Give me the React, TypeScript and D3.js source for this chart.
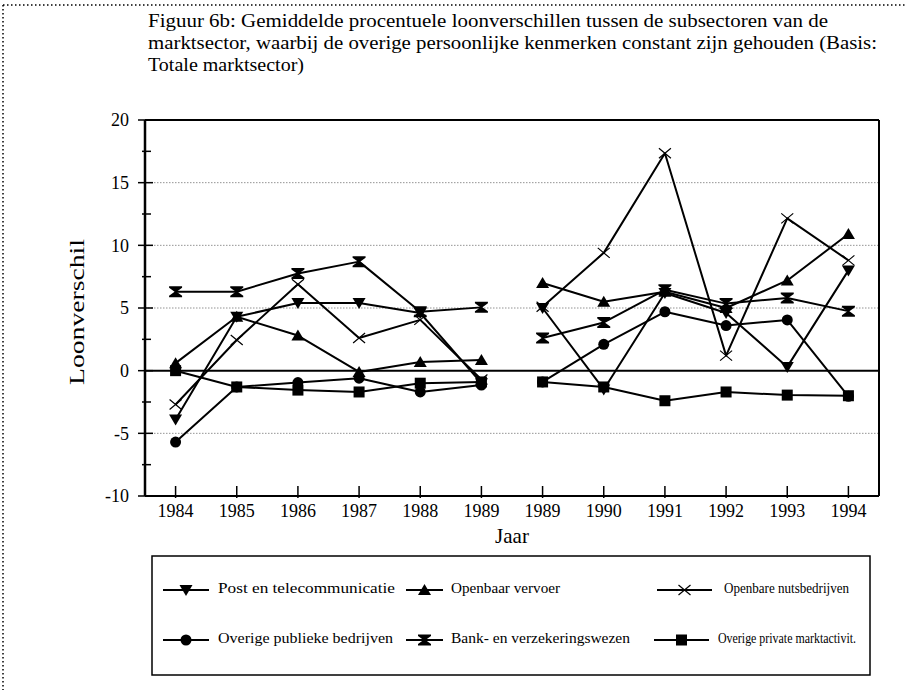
import React from "react";
import * as d3 from "d3";

const categories = ["1984", "1985", "1986", "1987", "1988", "1989", "1989", "1990", "1991", "1992", "1993", "1994"];
const yTicks = [-10, -5, 0, 5, 10, 15, 20];
const gridValues = [-5, 5, 10, 15];

const post = [-3.9, 4.3, 5.4, 5.4, 4.6, -1.0, 5.0, -1.5, 6.2, 4.6, 0.3, 8.0];
const openbaar = [0.6, 4.3, 2.8, -0.1, 0.7, 0.85, 7.0, 5.5, 6.3, 5.0, 7.2, 10.9];
const nuts = [-2.7, 2.45, 6.9, 2.6, 4.05, -0.7, 5.1, 9.4, 17.35, 1.2, 12.15, 8.8];
const publieke = [-5.7, -1.3, -0.95, -0.6, -1.7, -1.15, -0.9, 2.1, 4.7, 3.6, 4.05, -2.05];
const bank = [6.3, 6.3, 7.75, 8.7, 4.7, 5.05, 2.6, 3.85, 6.45, 5.35, 5.8, 4.75];
const privaat = [0, -1.3, -1.55, -1.7, -1.0, -0.9, -0.9, -1.3, -2.4, -1.7, -1.95, -2.0];

const seriesNames = [
  "Post en telecommunicatie",
  "Openbaar vervoer",
  "Openbare nutsbedrijven",
  "Overige publieke bedrijven",
  "Bank- en verzekeringswezen",
  "Overige private marktactivit.",
];
const seriesValues = [post, openbaar, nuts, publieke, bank, privaat];
const markerTypes = ["down", "up", "x", "circle", "bank", "square"];

const titleLines = [
  "Figuur 6b: Gemiddelde procentuele loonverschillen tussen de subsectoren van de",
  "marktsector, waarbij de overige persoonlijke kenmerken constant zijn gehouden (Basis:",
  "Totale marktsector)",
];

const FONT = "Liberation Serif, Times New Roman, Times, Tinos, serif";

function Marker({ type, x, y }: { type: string; x: number; y: number }) {
  const t = `translate(${x},${y})`;
  switch (type) {
    case "down":
      return <path transform={t} d="M-6.5,-5 L6.5,-5 L0,6 Z" fill="#000" />;
    case "up":
      return <path transform={t} d="M-6.5,5 L6.5,5 L0,-6 Z" fill="#000" />;
    case "x":
      return <path transform={t} d="M-6,-5 L6,5 M-6,5 L6,-5" stroke="#000" strokeWidth={1.2} fill="none" />;
    case "circle":
      return <circle cx={x} cy={y} r={5.5} fill="#000" />;
    case "bank":
      return <path transform={t} d="M-6.5,-5.5 L6.5,-5.5 L6.5,-4 L1,0 L6.5,4 L6.5,5.5 L-6.5,5.5 L-6.5,4 L-1,0 L-6.5,-4 Z" fill="#000" />;
    case "square":
      return <rect x={x - 5.5} y={y - 5.5} width={11} height={11} fill="#000" />;
  }
  return null;
}

export default function App() {
  const left = 145, right = 879, top = 120, bottom = 496;
  const x = d3.scaleBand<number>().domain(d3.range(categories.length)).range([left, right]);
  const cx = (i: number) => (x(i) as number) + x.bandwidth() / 2;
  const y = d3.scaleLinear().domain([-10, 20]).range([bottom, top]);

  const segPath = (vals: number[], start: number, end: number) => {
    const idx = d3.range(start, end);
    return d3.line<number>().x((i) => cx(i)).y((i) => y(vals[i]))(idx) || "";
  };

  const minorTicks = d3.range(-7.5, 20, 5);

  const legendItems = [
    { col: 0, row: 0 }, { col: 1, row: 0 }, { col: 2, row: 0 },
    { col: 0, row: 1 }, { col: 1, row: 1 }, { col: 2, row: 1 },
  ];
  const legendColsRow1 = [{ l0: 163, l1: 209, tx: 218 }, { l0: 406, l1: 443, tx: 451 }, { l0: 657, l1: 712, tx: 724 }];
  const legendColsRow2 = [{ l0: 163, l1: 209, tx: 218 }, { l0: 406, l1: 443, tx: 451 }, { l0: 654, l1: 709, tx: 718 }];
  const legendRows = [590, 640];
  const legendTextW = [177, 109, 125, 175, 179, 138];

  return (
    <svg width={907} height={690} style={{ position: "absolute", left: 0, top: 0, background: "#fff" }} fontFamily={FONT}>
      {/* outer dotted frame */}
      <line x1={3} y1={5} x2={907} y2={5} stroke="#000" strokeWidth={1.5} strokeDasharray="1.5,2.5" />
      <line x1={3} y1={5} x2={3} y2={690} stroke="#000" strokeWidth={1.5} strokeDasharray="1.5,2.5" />

      {/* title */}
      {titleLines.map((t, i) => (
        <text key={i} x={148} y={27 + i * 22} fontSize={19.5} textLength={i === 0 ? 680 : i === 1 ? 729 : 156} lengthAdjust="spacingAndGlyphs">
          {t}
        </text>
      ))}

      {/* gridlines */}
      {gridValues.map((v) => (
        <line key={v} x1={left} x2={right} y1={y(v)} y2={y(v)} stroke="#777" strokeWidth={0.8} strokeDasharray="1.5,1.5" />
      ))}

      {/* zero line */}
      <line x1={left} x2={right} y1={y(0)} y2={y(0)} stroke="#000" strokeWidth={2} />

      {/* frame */}
      <line x1={left} x2={right} y1={top} y2={top} stroke="#000" strokeWidth={2} />
      <line x1={right} x2={right} y1={top} y2={bottom} stroke="#000" strokeWidth={2} />
      <line x1={left} x2={right} y1={bottom} y2={bottom} stroke="#000" strokeWidth={2} />
      <line x1={left} x2={left} y1={top} y2={bottom} stroke="#000" strokeWidth={2.5} />

      {/* y ticks */}
      {yTicks.map((v) => (
        <g key={v}>
          <line x1={left - 7} x2={left + 8} y1={y(v)} y2={y(v)} stroke="#000" strokeWidth={1.5} />
          <text x={129} y={y(v)} dy="0.35em" textAnchor="end" fontSize={18}>
            {v}
          </text>
        </g>
      ))}
      {minorTicks.map((v) => (
        <line key={v} x1={left - 3} x2={left + 6} y1={y(v)} y2={y(v)} stroke="#000" strokeWidth={1.5} />
      ))}

      {/* x ticks */}
      {categories.map((c, i) => (
        <g key={i}>
          <line x1={cx(i)} x2={cx(i)} y1={bottom - 10} y2={bottom + 2} stroke="#000" strokeWidth={1.5} />
          <text x={cx(i)} y={517} textAnchor="middle" fontSize={18}>
            {c}
          </text>
        </g>
      ))}

      {/* axis titles */}
      <text x={512} y={543} textAnchor="middle" fontSize={21}>Jaar</text>
      <text transform={`translate(84,312) rotate(-90)`} textAnchor="middle" fontSize={21} textLength={146} lengthAdjust="spacingAndGlyphs">
        Loonverschil
      </text>

      {/* series lines */}
      {seriesValues.map((vals, s) => (
        <g key={s}>
          <path d={segPath(vals, 0, 6)} fill="none" stroke="#000" strokeWidth={2} strokeLinejoin="round" />
          <path d={segPath(vals, 6, 12)} fill="none" stroke="#000" strokeWidth={2} strokeLinejoin="round" />
        </g>
      ))}
      {/* markers */}
      {seriesValues.map((vals, s) => (
        <g key={s}>
          {vals.map((v, i) => (
            <Marker key={i} type={markerTypes[s]} x={cx(i)} y={y(v)} />
          ))}
        </g>
      ))}

      {/* legend */}
      <rect x={152} y={556} width={718} height={119} fill="none" stroke="#000" strokeWidth={1.5} />
      {seriesNames.map((n, s) => {
        const { col, row } = legendItems[s];
        const c = row === 0 ? legendColsRow1[col] : legendColsRow2[col];
        const ly = legendRows[row];
        return (
          <g key={s}>
            <line x1={c.l0} x2={c.l1} y1={ly} y2={ly} stroke="#000" strokeWidth={2} />
            <Marker type={markerTypes[s]} x={(c.l0 + c.l1) / 2} y={ly} />
            <text x={c.tx} y={ly} dy="0.2em" fontSize={14} textLength={legendTextW[s]} lengthAdjust="spacingAndGlyphs">
              {n}
            </text>
          </g>
        );
      })}
    </svg>
  );
}
